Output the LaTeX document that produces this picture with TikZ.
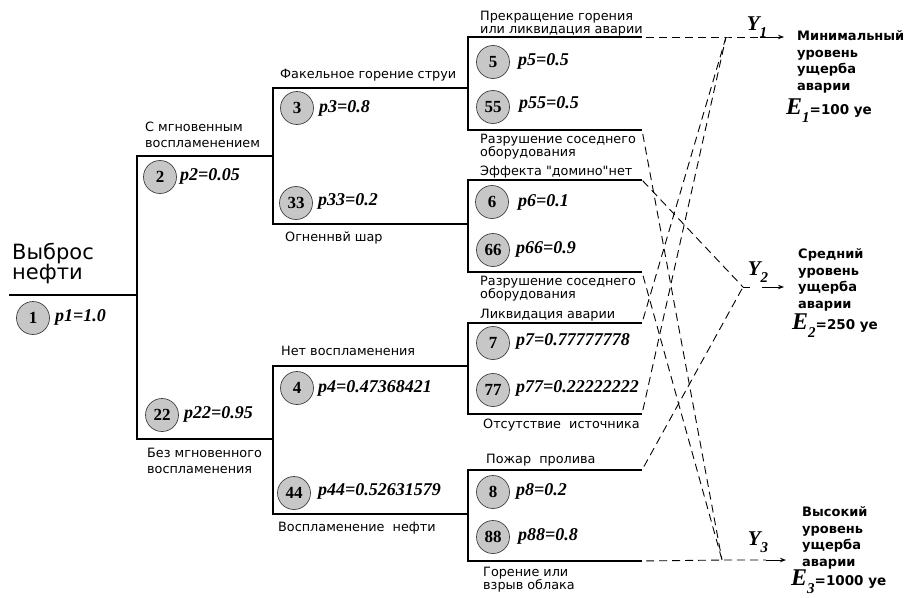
\documentclass[tikz,border=0pt]{standalone}
\usepackage{fontspec}
\setmainfont{Liberation Serif}
\newfontfamily\sansf{DejaVu Sans}
\usetikzlibrary{arrows.meta}
\begin{document}
\begin{tikzpicture}[x=1pt,y=-1pt,
  tree/.style={line width=2.8pt, line join=miter},
  dsh/.style={line width=0.9pt, dash pattern=on 8pt off 5pt},
  ev/.style={circle, draw=black!75, line width=0.7pt, fill=black!22, minimum size=33pt, inner sep=0pt, font=\fontsize{17}{17}\selectfont\bfseries},
  prob/.style={anchor=west, inner sep=0pt, font=\fontsize{18}{18}\selectfont\bfseries\itshape},
  lbl/.style={anchor=west, inner sep=0pt, align=left, font=\sansf\fontsize{12.8}{13}\selectfont},
  lblw/.style={anchor=west, inner sep=0pt, align=left, font=\sansf\fontsize{12.8}{16.5}\selectfont},
  res/.style={anchor=west, inner sep=0pt, align=left, font=\sansf\bfseries\fontsize{13}{16.7}\selectfont},
  yl/.style={inner sep=0pt, font=\fontsize{21}{21}\selectfont\bfseries\itshape},
  el/.style={anchor=west, inner sep=0pt},
  arr/.style={line width=0.9pt, -{Stealth[length=6pt,width=4.5pt]}}
]
\useasboundingbox (0,0) rectangle (909,597);

% tree coordinates
\coordinate (r0) at (9,295);   \coordinate (r1) at (137,295);
\coordinate (a0) at (137,156); \coordinate (a1) at (273,156);
\coordinate (b0) at (137,439); \coordinate (b1) at (273,439);
\coordinate (c0) at (273,88);  \coordinate (c1) at (468,88);
\coordinate (d0) at (273,224); \coordinate (d1) at (468,224);
\coordinate (e0) at (273,366); \coordinate (e1) at (468,366);
\coordinate (f0) at (273,514); \coordinate (f1) at (468,514);
\foreach \i/\y in {1/37,2/130,3/180,4/272,5/323,6/414,7/470,8/561}{
  \coordinate (s\i) at (468,\y);
  \coordinate (t\i) at (642,\y);
}
\coordinate (Y1) at (726,37);
\coordinate (Y2) at (743,287);
\coordinate (Y3) at (722,560);
\coordinate (A1) at (760,37);  \coordinate (B1) at (784,37);
\coordinate (A2) at (762,287); \coordinate (B2) at (784,287);
\coordinate (A3) at (766,560); \coordinate (B3) at (786,560);

% tree lines
\draw[tree] (r0) -- (r1);
\draw[tree] (a1) -- (a0) -- (b0) -- (b1);
\draw[tree] (c1) -- (c0) -- (d0) -- (d1);
\draw[tree] (e1) -- (e0) -- (f0) -- (f1);
\draw[tree] (t1) -- (s1) -- (s2) -- (t2);
\draw[tree] (t3) -- (s3) -- (s4) -- (t4);
\draw[tree] (t5) -- (s5) -- (s6) -- (t6);
\draw[tree] (t7) -- (s7) -- (s8) -- (t8);

% dashed connectors
\draw[dsh, shorten <=4pt] (t1) -- (Y1) -- (A1);
\draw[dsh, shorten <=4pt] (t5) -- (Y1);
\draw[dsh, shorten <=4pt] (t6) -- (Y1);
\draw[dsh, shorten <=1pt] (t3) -- (Y2);
\draw[dsh, shorten <=4pt] (t7) -- (Y2);
\draw[line width=0.9pt] (Y2) -- ++(7,0);
\draw[dsh, shorten <=4pt] (t2) -- (Y3);
\draw[dsh, shorten <=4pt] (t4) -- (Y3);
\draw[dsh, shorten <=4pt] (t8) -- (Y3) -- (A3);
\draw[arr] (A1) -- (B1);
\draw[arr] (A2) -- (B2);
\draw[arr] (A3) -- (B3);

% Y labels
\node[yl] (y1) at (757,27) {Y\raisebox{-7pt}{\fontsize{15}{15}\selectfont 1}};
\node[yl] (y2) at (758,272) {Y\raisebox{-7pt}{\fontsize{15}{15}\selectfont 2}};
\node[yl] (y3) at (758,542) {Y\raisebox{-7pt}{\fontsize{15}{15}\selectfont 3}};

% event circles
\node[ev] (n1) at (33,318) {1};
\node[ev] (n2) at (160,177) {2};
\node[ev] (n22) at (162,415) {22};
\node[ev] (n3) at (297,108) {3};
\node[ev] (n33) at (296,203) {33};
\node[ev] (n4) at (297,388) {4};
\node[ev] (n44) at (294,493) {44};
\node[ev] (n5) at (493,62) {5};
\node[ev] (n55) at (493,107) {55};
\node[ev] (n6) at (492,202) {6};
\node[ev] (n66) at (493,250) {66};
\node[ev] (n7) at (493,343) {7};
\node[ev] (n77) at (493,390) {77};
\node[ev] (n8) at (493,492) {8};
\node[ev] (n88) at (493,537) {88};

% probabilities
\node[prob] (p1) at (55,317) {p1=1.0};
\node[prob] (p2) at (180,176) {p2=0.05};
\node[prob] (p22) at (184,414) {p22=0.95};
\node[prob] (p3) at (319,108) {p3=0.8};
\node[prob] (p33) at (318,201) {p33=0.2};
\node[prob] (p4) at (318,388) {p4=0.47368421};
\node[prob] (p44) at (318,491) {p44=0.52631579};
\node[prob] (p5) at (518,61) {p5=0.5};
\node[prob] (p55) at (519,104) {p55=0.5};
\node[prob] (p6) at (518,202) {p6=0.1};
\node[prob] (p66) at (516,249) {p66=0.9};
\node[prob] (p7) at (516,341) {p7=0.77777778};
\node[prob] (p77) at (516,388) {p77=0.22222222};
\node[prob] (p8) at (516,491) {p8=0.2};
\node[prob] (p88) at (518,536) {p88=0.8};

% branch labels
\node[anchor=west, inner sep=0pt, align=left, font=\sansf\fontsize{21}{20}\selectfont] (root) at (12,264) {Выброс\\нефти};
\node[lblw] (l2) at (145,135) {С мгновенным\\воспламенением};
\node[lblw] (l22) at (147,461) {Без мгновенного\\воспламенения};
\node[lbl] (l3) at (280,75) {Факельное горение струи};
\node[lbl] (l33) at (285,238) {Огненнвй шар};
\node[lbl] (l4) at (281,351) {Нет воспламенения};
\node[lbl] (l44) at (278,528) {Воспламенение\ \ нефти};
\node[lbl] (l5) at (480,23.5) {Прекращение горения\\или ликвидация аварии};
\node[lbl] (l55) at (480,146.5) {Разрушение соседнего\\оборудования};
\node[lbl] (l6) at (480,172) {Эффекта "домино"нет};
\node[lbl] (l66) at (480,288.5) {Разрушение соседнего\\оборудования};
\node[lbl] (l7) at (480,315) {Ликвидация аварии};
\node[lbl] (l77) at (483,425) {Отсутствие\ \ источника};
\node[lbl] (l8) at (486,460) {Пожар\ \ пролива};
\node[lbl] (l88) at (483,579.5) {Горение или\\взрыв облака};

% outcomes
\node[res] (o1) at (797,62) {Минимальный\\уровень\\ущерба\\аварии};
\node[res] (o2) at (798,280) {Средний\\уровень\\ущерба\\аварии};
\node[res] (o3) at (802,538) {Высокий\\уровень\\ущерба\\аварии};
\node[el] (e1) at (786,111) {{\fontsize{24}{24}\selectfont\bfseries\itshape E}\raisebox{-8pt}{\fontsize{15}{15}\selectfont\bfseries\itshape 1}{\sansf\bfseries\fontsize{13.5}{13.5}\selectfont =100 уе}};
\node[el] (e2) at (792,326) {{\fontsize{24}{24}\selectfont\bfseries\itshape E}\raisebox{-8pt}{\fontsize{15}{15}\selectfont\bfseries\itshape 2}{\sansf\bfseries\fontsize{13.5}{13.5}\selectfont =250 уе}};
\node[el] (e3) at (791,582) {{\fontsize{24}{24}\selectfont\bfseries\itshape E}\raisebox{-8pt}{\fontsize{15}{15}\selectfont\bfseries\itshape 3}{\sansf\bfseries\fontsize{13.5}{13.5}\selectfont =1000 уе}};
\end{tikzpicture}
\end{document}
